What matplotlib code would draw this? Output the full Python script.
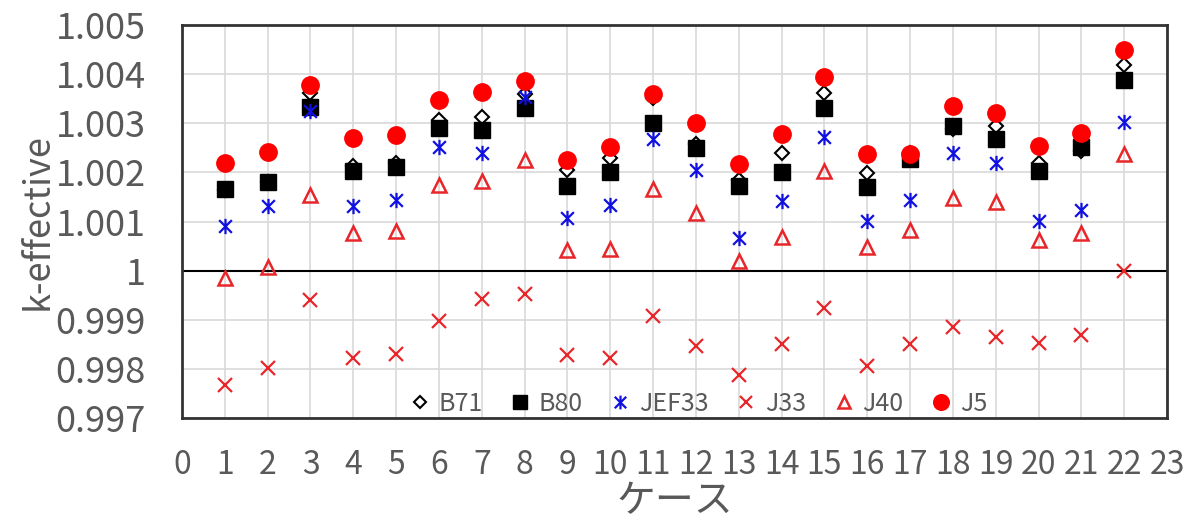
import matplotlib
matplotlib.use("Agg")
import matplotlib.pyplot as plt
from matplotlib.path import Path
import numpy as np

plt.rcParams['font.family'] = ['Noto Sans CJK JP', 'DejaVu Sans']

cases = list(range(1, 23))
b71 = [1.00165, 1.00180, 1.00362, 1.00213, 1.00219, 1.00306, 1.00312, 1.00359, 1.00205, 1.00230, 1.00352,
       1.00257, 1.00184, 1.00239, 1.00361, 1.00199, 1.00240, 1.00288, 1.00295, 1.00220, 1.00244, 1.00419]
b80 = [1.00167, 1.00180, 1.00334, 1.00202, 1.00210, 1.00291, 1.00287, 1.00331, 1.00173, 1.00200, 1.00300,
       1.00249, 1.00173, 1.00200, 1.00332, 1.00171, 1.00227, 1.00295, 1.00268, 1.00203, 1.00252, 1.00388]
jef33 = [1.00090, 1.00131, 1.00324, 1.00131, 1.00144, 1.00251, 1.00239, 1.00354, 1.00107, 1.00134, 1.00268,
         1.00205, 1.00066, 1.00141, 1.00273, 1.00102, 1.00144, 1.00239, 1.00220, 1.00102, 1.00123, 1.00303]
j33 = [0.99768, 0.99802, 0.99940, 0.99822, 0.99831, 0.99898, 0.99942, 0.99953, 0.99829, 0.99822, 0.99907,
       0.99846, 0.99788, 0.99850, 0.99924, 0.99807, 0.99850, 0.99886, 0.99866, 0.99852, 0.99870, 1.00000]
j40 = [0.99985, 1.00007, 1.00154, 1.00077, 1.00080, 1.00174, 1.00182, 1.00225, 1.00042, 1.00044, 1.00167,
       1.00117, 1.00020, 1.00068, 1.00203, 1.00049, 1.00083, 1.00148, 1.00139, 1.00063, 1.00077, 1.00237]
j5 = [1.00220, 1.00242, 1.00377, 1.00269, 1.00276, 1.00348, 1.00364, 1.00386, 1.00225, 1.00251, 1.00359,
      1.00300, 1.00218, 1.00278, 1.00395, 1.00237, 1.00237, 1.00335, 1.00320, 1.00254, 1.00281, 1.00449]

yticks = [0.997, 0.998, 0.999, 1.0, 1.001, 1.002, 1.003, 1.004, 1.005]
ytick_labels = ['0.997', '0.998', '0.999', '1', '1.001', '1.002', '1.003', '1.004', '1.005']

# excel style asterisk: x plus vertical bar
d = 0.5
ast = Path([(-d, -d), (d, d), (-d, d), (d, -d), (0, -0.6), (0, 0.6)],
           [Path.MOVETO, Path.LINETO, Path.MOVETO, Path.LINETO, Path.MOVETO, Path.LINETO])

gray = '#595959'
fig = plt.figure(figsize=(11.95, 5.2), dpi=100)
ax = fig.add_axes([0.1523, 0.196, 0.8243, 0.756])

ax.plot(cases, b71, ls='none', marker='D', ms=7, mfc='white', mec='black', mew=1.5, label='B71', zorder=3)
ax.plot(cases, b80, ls='none', marker='s', ms=11, mfc='black', mec='black', label='B80', zorder=4)
ax.plot(cases, jef33, ls='none', marker=ast, ms=11, mfc='none', mec='#1010e0', mew=1.6, label='JEF33', zorder=5)
ax.plot(cases, j33, ls='none', marker='x', ms=10, mec='#e8262a', mew=1.6, label='J33', zorder=6)
ax.plot(cases, j40, ls='none', marker='^', ms=10, mfc='none', mec='#e8262a', mew=1.8, label='J40', zorder=7)
ax.plot(cases, j5, ls='none', marker='o', ms=12.5, mfc='#ff0000', mec='#ff0000', label='J5', zorder=8)

ax.set_xlim(0, 23)
ax.set_ylim(0.997, 1.005)
ax.set_xticks(range(0, 24))
ax.set_yticks(yticks)
ax.set_yticklabels(ytick_labels)
ax.grid(True, color='#d9d9d9', lw=1.2, zorder=0)
ax.set_axisbelow(True)
ax.axhline(1.0, color='black', lw=1.5, zorder=2)
for s in ax.spines.values():
    s.set_color('#333333')
    s.set_linewidth(2)
ax.tick_params(axis='both', length=0, labelcolor=gray)
ax.tick_params(axis='y', pad=26, labelsize=26)
ax.tick_params(axis='x', pad=22, labelsize=23)
ax.set_ylabel('k-effective', fontsize=26, color=gray, labelpad=0)
ax.set_xlabel('ケース', fontsize=28, color=gray, labelpad=0)

ax.legend(loc='lower center', bbox_to_anchor=(0.523, -0.055), ncol=6, frameon=False,
          fontsize=18, labelcolor=gray, handlelength=1.0, handletextpad=0.25,
          columnspacing=1.0, markerscale=0.9)

fig.savefig('out.png', dpi=100)
